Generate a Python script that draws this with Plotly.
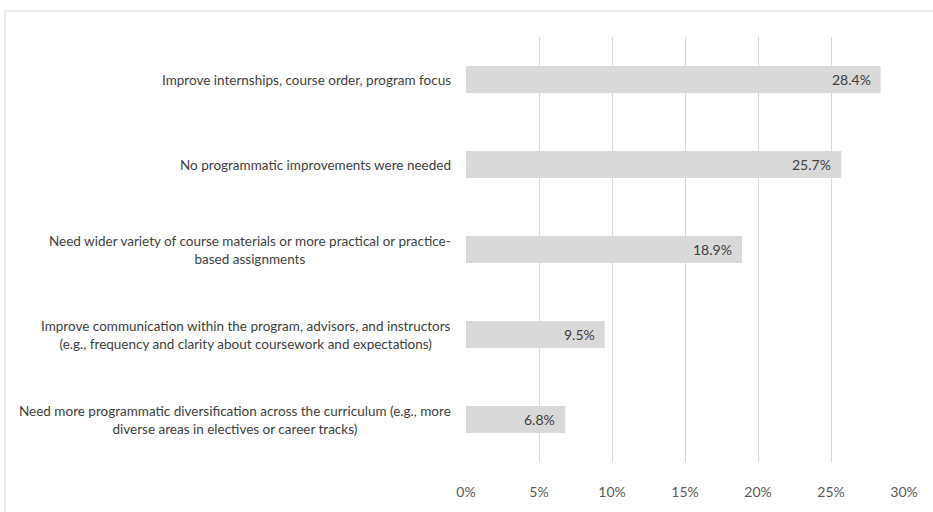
import plotly.graph_objects as go

categories = [
    "Improve internships, course order, program focus",
    "No programmatic improvements were needed",
    "Need wider variety of course materials or more practical or practice-<br>based assignments",
    "Improve communication within the program, advisors, and instructors<br>(e.g., frequency and clarity about coursework and expectations)",
    "Need more programmatic diversification across the curriculum (e.g., more<br>diverse areas in electives or career tracks)",
]
values = [28.4, 25.7, 18.9, 9.5, 6.8]
tick_vals = [0, 5, 10, 15, 20, 25, 30]
tick_text = ["0%", "5%", "10%", "15%", "20%", "25%", "30%"]

FONT = "Liberation Sans Narrow, Arial Narrow, Lato, sans-serif"
ids = list(range(len(categories)))

fig = go.Figure(go.Bar(
    x=values,
    y=ids,
    orientation="h",
    marker=dict(color="#d9d9d9", line=dict(width=0)),
    hoverinfo="skip",
))

for i, c, v in zip(ids, categories, values):
    fig.add_annotation(
        x=0, xref="paper", y=i, yref="y",
        text=c, showarrow=False, xanchor="right", align="center",
        xshift=-13, font=dict(family=FONT, size=13.5, color="#404040"),
    )
    fig.add_annotation(
        x=v, xref="x", y=i, yref="y",
        text=f"{v:.1f}%", showarrow=False, xanchor="right",
        xshift=-8, font=dict(family=FONT, size=14, color="#404040"),
    )

W, H = 933, 512
L, R, T, B = 466, 29, 37, 50
pw, ph = W - L - R, H - T - B
bx0, by0 = 5, 11
fig.add_shape(
    type="rect", xref="paper", yref="paper",
    x0=(bx0 - L) / pw, x1=(W + 5 - L) / pw,
    y0=(H - B - (H + 5)) / ph, y1=(H - B - by0) / ph,
    line=dict(color="#d9d9d9", width=1), fillcolor="rgba(0,0,0,0)", layer="below",
)

fig.update_layout(
    width=W, height=H,
    margin=dict(l=L, r=R, t=T, b=B),
    paper_bgcolor="white", plot_bgcolor="white",
    bargap=0.68,
    showlegend=False,
    xaxis=dict(range=[0, 30], tickvals=tick_vals, ticktext=tick_text,
               showgrid=True, gridcolor="#d9d9d9", gridwidth=1,
               zeroline=False, showline=False, ticks="",
               ticklabelstandoff=20,
               tickfont=dict(family=FONT, size=14, color="#595959")),
    yaxis=dict(range=[4.5, -0.5], showticklabels=False, showgrid=False,
               zeroline=False, showline=False),
)

fig.write_html("out.html",
               config={"displayModeBar": False, "staticPlot": True},
               post_script="document.body.style.margin='0';document.body.style.overflow='hidden';")
